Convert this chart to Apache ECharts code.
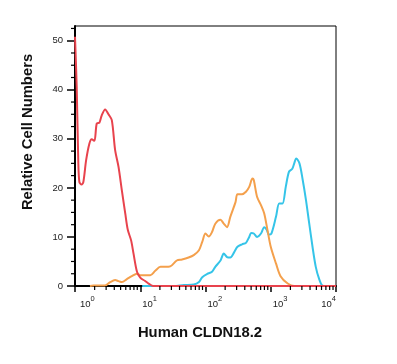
<!DOCTYPE html>
<html>
<head>
<meta charset="utf-8">
<script src="https://cdn.jsdelivr.net/npm/echarts@6/dist/echarts.min.js"></script>
<style>
html,body{margin:0;padding:0;background:#fff;}
#chart{width:397px;height:364px;}
</style>
</head>
<body>
<div id="chart"></div>
<script>
// Data: x positions given as decades (log10 of fluorescence intensity), y = relative cell numbers
const redDecade = [0, 0.026, 0.05, 0.067, 0.10, 0.128, 0.17, 0.22, 0.256, 0.297, 0.333, 0.374, 0.41, 0.462, 0.513, 0.564, 0.615, 0.667, 0.718, 0.77, 0.81, 0.86, 0.897, 0.95, 1.0, 1.077, 1.128, 1.2, 2.0, 3.0, 4.0];
const redCount = [50.8, 40.6, 25.6, 21.2, 20.7, 21.2, 25.6, 29, 29.9, 29.6, 33.1, 33.3, 34.8, 36, 35, 33.8, 27.7, 24.3, 19.5, 14.8, 11.4, 9.3, 6.6, 2.9, 1.7, 1.0, 0.5, 0, 0, 0, 0];

const orangeDecade = [0.23, 0.28, 0.46, 0.54, 0.615, 0.667, 0.72, 0.795, 0.87, 0.95, 1.0, 1.077, 1.154, 1.23, 1.31, 1.385, 1.46, 1.56, 1.64, 1.74, 1.82, 1.9, 1.95, 2.0, 2.05, 2.1, 2.15, 2.23, 2.28, 2.33, 2.38, 2.46, 2.49, 2.56, 2.62, 2.67, 2.72, 2.74, 2.79, 2.85, 2.9, 2.95, 3.0, 3.08, 3.15, 3.26, 3.36, 4.0];
const orangeCount = [0, 0.1, 0.1, 0.8, 1.2, 1.0, 0.8, 1.4, 2.0, 2.5, 2.2, 2.2, 2.2, 3.1, 3.9, 3.9, 4.0, 5.2, 5.4, 5.8, 6.3, 7.3, 9.0, 10.7, 10.1, 11.0, 12.7, 13.5, 12.7, 12.0, 14.1, 17.1, 18.7, 18.7, 19.2, 20.2, 21.9, 21.6, 18.2, 16.5, 14.8, 11.4, 8.0, 4.6, 2.0, 0.5, 0, 0];

const cyanDecade = [1.03, 1.51, 1.67, 1.82, 1.9, 1.95, 2.03, 2.1, 2.15, 2.23, 2.28, 2.33, 2.38, 2.44, 2.49, 2.56, 2.62, 2.67, 2.7, 2.74, 2.79, 2.85, 2.9, 2.94, 2.97, 3.01, 3.08, 3.13, 3.18, 3.23, 3.28, 3.33, 3.36, 3.39, 3.44, 3.49, 3.54, 3.59, 3.64, 3.69, 3.74, 3.79, 3.85, 4.0];
const cyanCount = [0, 0, 0.2, 0.3, 0.8, 1.8, 2.5, 2.9, 3.9, 5.2, 6.6, 5.9, 5.8, 6.9, 8.0, 8.5, 8.8, 10.0, 10.8, 10.7, 10.0, 10.7, 12.0, 11.4, 10.5, 10.7, 14.1, 16.8, 16.8, 20.2, 23.3, 23.9, 25.0, 26.0, 25.0, 21.6, 17.5, 12.7, 8.0, 3.9, 1.5, 0.1, 0, 0];

const yTickValues = [0, 10, 20, 30, 40, 50];
const yMinorTicks = [2.5, 5, 7.5, 12.5, 15, 17.5, 22.5, 25, 27.5, 32.5, 35, 37.5, 42.5, 45, 47.5, 52.5];
const xMinorTicks = [2, 3, 4, 5, 6, 7, 8, 9, 20, 30, 40, 50, 60, 70, 80, 90, 200, 300, 400, 500, 600, 700, 800, 900, 2000, 3000, 4000, 5000, 6000, 7000, 8000, 9000];

const xTitle = 'Human CLDN18.2';
const yTitle = 'Relative Cell Numbers';

const X_MIN = 1, X_MAX = 10000, Y_MIN = 0, Y_MAX = 53;

function pairs(dec, cnt) { return dec.map((d, i) => [Math.pow(10, d), cnt[i]]); }

const chart = echarts.init(document.getElementById('chart'), null, {renderer: 'canvas'});

const lineBase = {type: 'line', showSymbol: false, smooth: 0.3, silent: true, animation: false, clip: true};

const supLabel = function (v) {
  const e = Math.round(Math.log10(v));
  if (e === 4) return '';
  const style = e === 0 ? 'b0' : 'b';
  return '{' + style + '|10}{s|' + e + '}';
};
const supLabelLast = function (v) {
  const e = Math.round(Math.log10(v));
  if (e !== 4) return '';
  return '{b|10}{s|' + e + '}';
};
const richSup = {
  b: {fontSize: 9.5, fontFamily: 'Liberation Sans, Arial', color: '#222', padding: [0, 0, 0, 2], verticalAlign: 'bottom'},
  b0: {fontSize: 9.5, fontFamily: 'Liberation Sans, Arial', color: '#222', padding: [0, 0, 0, 5], verticalAlign: 'bottom'},
  s: {fontSize: 7.5, fontFamily: 'Liberation Sans, Arial', color: '#222', padding: [0, 0, 6, 0], verticalAlign: 'top'}
};

chart.setOption({
  animation: false,
  grid: {left: 75, right: 61, top: 26, bottom: 78, show: true, borderColor: '#000', borderWidth: 1, backgroundColor: 'transparent'},
  xAxis: [{
    type: 'log', logBase: 10, min: X_MIN, max: X_MAX,
    axisLine: {show: true, lineStyle: {color: '#000', width: 2}},
    axisTick: {show: true, length: 6, lineStyle: {color: '#000', width: 1.5}},
    splitLine: {show: false},
    axisLabel: {show: true, margin: 9, align: 'left', formatter: supLabel, rich: richSup}
  }, {
    type: 'log', logBase: 10, min: X_MIN, max: X_MAX, position: 'bottom', offset: 0,
    axisLine: {show: false}, axisTick: {show: false}, splitLine: {show: false},
    axisLabel: {show: true, margin: 9, align: 'right', formatter: supLabelLast, rich: richSup}
  }],
  yAxis: {
    type: 'value', min: Y_MIN, max: Y_MAX,
    axisLine: {show: true, lineStyle: {color: '#000', width: 2}},
    axisTick: {show: true, length: 8, customValues: yTickValues, lineStyle: {color: '#000', width: 1.5}},
    splitLine: {show: false},
    axisLabel: {show: true, customValues: yTickValues, margin: 12, fontSize: 9.5, fontFamily: 'Liberation Sans, Arial', color: '#222'}
  },
  graphic: [
    {type: 'text', x: 28, y: 132, rotation: Math.PI / 2,
     style: {text: yTitle, font: 'bold 14.8px "Liberation Sans", Arial', fill: '#111', textAlign: 'center', textVerticalAlign: 'middle'}},
    {type: 'text', x: 200, y: 333,
     style: {text: xTitle, font: 'bold 14.8px "Liberation Sans", Arial', fill: '#111', textAlign: 'center', textVerticalAlign: 'middle'}}
  ],
  series: [
    Object.assign({}, lineBase, {name: 'cyan', data: pairs(cyanDecade, cyanCount), lineStyle: {color: '#35c4e8', width: 2}, z: 3}),
    Object.assign({}, lineBase, {name: 'orange', data: pairs(orangeDecade, orangeCount), lineStyle: {color: '#f4a04c', width: 2}, z: 4}),
    Object.assign({}, lineBase, {name: 'red', data: pairs(redDecade, redCount), lineStyle: {color: '#e8434d', width: 2}, z: 5}),
    {
      type: 'custom', silent: true, clip: false, animation: false, z: 6,
      data: xMinorTicks.map(v => [v, Y_MIN]),
      renderItem: function (params, api) {
        const p = api.coord([api.value(0), Y_MIN]);
        return {type: 'line', shape: {x1: p[0], y1: p[1], x2: p[0], y2: p[1] + 4}, style: {stroke: '#000', lineWidth: 1.2}};
      }
    },
    {
      type: 'custom', silent: true, clip: false, animation: false, z: 6,
      data: yMinorTicks.map(v => [X_MIN, v]),
      renderItem: function (params, api) {
        const p = api.coord([X_MIN, api.value(1)]);
        return {type: 'line', shape: {x1: p[0] - 4, y1: p[1], x2: p[0], y2: p[1]}, style: {stroke: '#000', lineWidth: 1.2}};
      }
    }
  ]
});
</script>
</body>
</html>
